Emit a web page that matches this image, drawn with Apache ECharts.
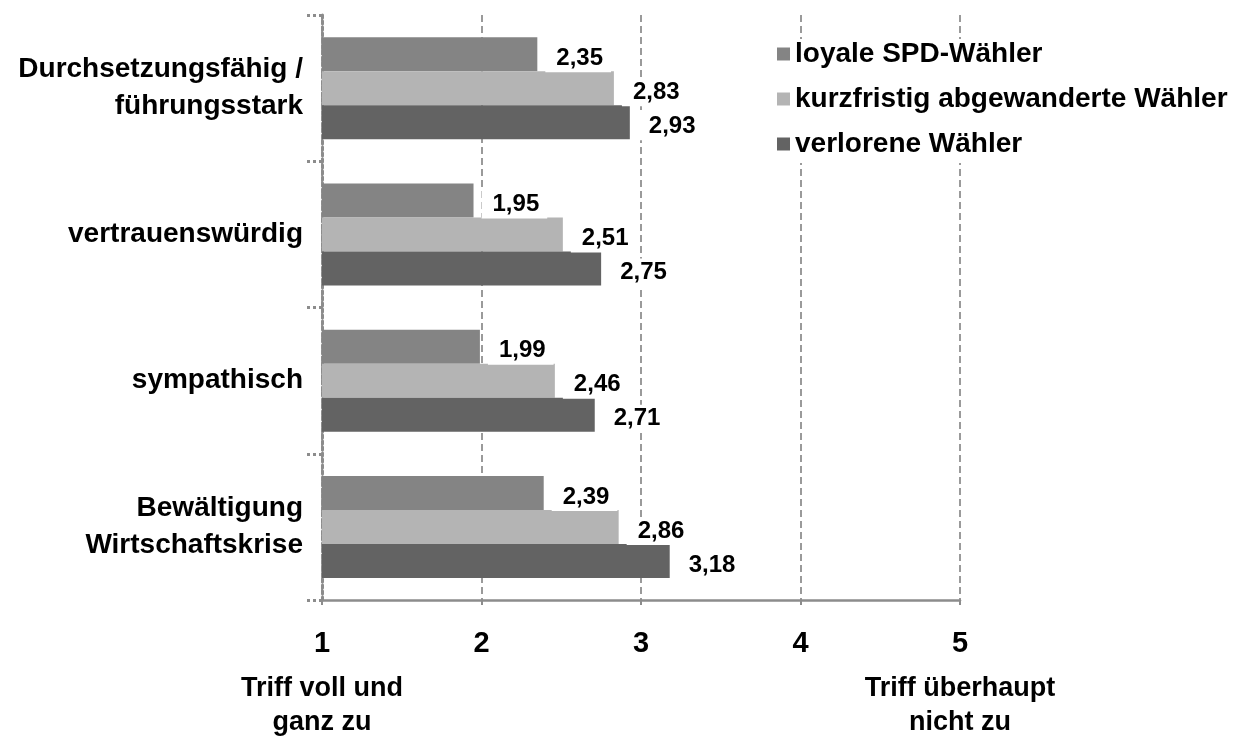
<!DOCTYPE html>
<html>
<head>
<meta charset="utf-8">
<script src="https://cdn.jsdelivr.net/npm/echarts@6/dist/echarts.min.js"></script>
<style>
  html, body { margin: 0; padding: 0; background: #fff; }
  #chart { width: 1237px; height: 738px; }
</style>
</head>
<body>
<div id="chart"></div>
<script>
// Kandidatenbewertung nach Wählergruppe (1 = trifft voll zu, 5 = trifft überhaupt nicht zu)
const categories = [
  'Durchsetzungsfähig /\nführungsstark',
  'vertrauenswürdig',
  'sympathisch',
  'Bewältigung\nWirtschaftskrise'
];
const seriesNames = ['loyale SPD-Wähler', 'kurzfristig abgewanderte Wähler', 'verlorene Wähler'];
const loyale = [2.35, 1.95, 1.99, 2.39];
const kurzfristig = [2.83, 2.51, 2.46, 2.86];
const verlorene = [2.93, 2.75, 2.71, 3.18];
const scaleTicks = [1, 2, 3, 4, 5];
const scaleEndLabels = { 1: 'Triff voll und\nganz zu', 5: 'Triff überhaupt\nnicht zu' };

const FONT = "'Liberation Sans', Arial, sans-serif";
const colors = ['#848484', '#b4b4b4', '#636363'];
const values = [loyale, kurzfristig, verlorene];

const chart = echarts.init(document.getElementById('chart'), null, { renderer: 'canvas' });

const series = seriesNames.map((name, i) => ({
  name: name,
  type: 'bar',
  data: values[i],
  barWidth: 34,
  barGap: '0%',
  itemStyle: { color: colors[i] },
  label: {
    show: true,
    position: 'right',
    distance: 8,
    offset: [0, 4],
    formatter: p => p.value.toFixed(2).replace('.', ','),
    fontFamily: FONT,
    fontWeight: 'bold',
    fontSize: 24,
    color: '#000',
    backgroundColor: '#fff',
    padding: [3, 8, 1, 11]
  }
}));

chart.setOption({
  animation: false,
  backgroundColor: '#fff',
  color: colors,
  grid: { left: 322, right: 277, top: 15, bottom: 138, containLabel: false },
  legend: {
    data: seriesNames,
    orient: 'vertical',
    left: 775,
    top: 39,
    icon: 'rect',
    itemWidth: 13,
    itemHeight: 13,
    itemGap: 15,
    padding: [0, 6, 4, 2],
    backgroundColor: '#fff',
    textStyle: {
      fontFamily: FONT,
      fontWeight: 'bold',
      fontSize: 28,
      lineHeight: 30,
      color: '#000'
    }
  },
  xAxis: {
    type: 'value',
    min: scaleTicks[0],
    max: scaleTicks[scaleTicks.length - 1],
    interval: 1,
    axisLine: { show: true, lineStyle: { color: '#8c8c8c', width: 2.5 } },
    axisTick: { show: true, length: 5, lineStyle: { color: '#8c8c8c', width: 2 } },
    splitLine: { show: true, lineStyle: { color: '#9a9a9a', width: 2, type: [7, 4] } },
    axisLabel: {
      margin: 16,
      showMinLabel: true,
      showMaxLabel: true,
      formatter: v => {
        let s = '{n|' + v + '}';
        if (scaleEndLabels[v]) {
          s += '\n' + scaleEndLabels[v].split('\n').map(t => '{s|' + t + '}').join('\n');
        }
        return s;
      },
      rich: {
        n: { fontFamily: FONT, fontWeight: 'bold', fontSize: 29, lineHeight: 56, color: '#000' },
        s: { fontFamily: FONT, fontWeight: 'bold', fontSize: 27, lineHeight: 34, color: '#000' }
      }
    }
  },
  yAxis: {
    type: 'category',
    data: categories,
    inverse: true,
    axisLine: { show: true, lineStyle: { color: '#8c8c8c', width: 3, type: 'dotted' } },
    axisTick: { show: true, length: 16, lineStyle: { color: '#8c8c8c', width: 3, type: 'dotted' } },
    splitLine: { show: false },
    axisLabel: {
      margin: 19,
      fontFamily: FONT,
      fontWeight: 'bold',
      fontSize: 28,
      lineHeight: 37,
      color: '#000',
      align: 'right'
    }
  },
  series: series
});
</script>
</body>
</html>
